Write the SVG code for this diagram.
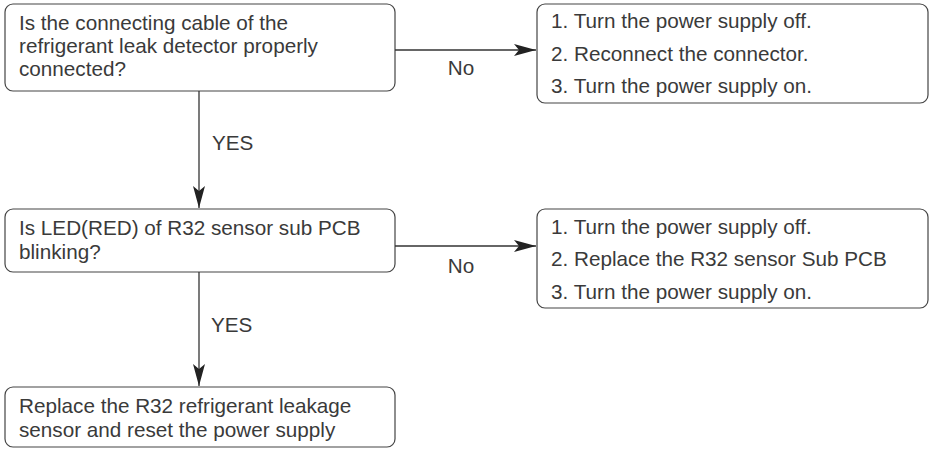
<svg xmlns="http://www.w3.org/2000/svg" width="930" height="450" viewBox="0 0 930 450">
<style>
.box{fill:#fff;stroke:#444;stroke-width:1.2}
.t{font-family:"Liberation Sans",Arial,sans-serif;font-size:20.7px;fill:#3a3a3a}
.c{stroke:#333;stroke-width:1.3;fill:none}
</style>
<defs>
<marker id="ah" markerUnits="userSpaceOnUse" markerWidth="23" markerHeight="13" viewBox="0 0 23 13" refX="22" refY="6.5" orient="auto">
<path d="M0,0.5 L22,6.5 L0,12.5 L5,6.5 Z" fill="#222"/>
</marker>
</defs>
<rect width="930" height="450" fill="#fff"/>
<g id="n1">
<rect class="box" x="5" y="4" width="390" height="87" rx="8"/>
<text class="t" x="19" y="30">Is the connecting cable of the</text>
<text class="t" x="19" y="53">refrigerant leak detector properly</text>
<text class="t" x="19" y="76">connected?</text>
</g>
<g id="n2">
<rect class="box" x="537" y="4" width="391" height="99" rx="8"/>
<text class="t" x="551" y="28">1. Turn the power supply off.</text>
<text class="t" x="551" y="61">2. Reconnect the connector.</text>
<text class="t" x="551" y="93">3. Turn the power supply on.</text>
</g>
<g id="n3">
<rect class="box" x="5" y="209" width="390" height="63" rx="8"/>
<text class="t" x="19" y="235">Is LED(RED) of R32 sensor sub PCB</text>
<text class="t" x="19" y="259">blinking?</text>
</g>
<g id="n4">
<rect class="box" x="537" y="209" width="391" height="99" rx="8"/>
<text class="t" x="551" y="234">1. Turn the power supply off.</text>
<text class="t" x="551" y="266">2. Replace the R32 sensor Sub PCB</text>
<text class="t" x="551" y="299">3. Turn the power supply on.</text>
</g>
<g id="n5">
<rect class="box" x="5" y="387" width="390" height="60" rx="8"/>
<text class="t" x="19" y="413">Replace the R32 refrigerant leakage</text>
<text class="t" x="19" y="437">sensor and reset the power supply</text>
</g>
<g id="connectors">
<line class="c" x1="395" y1="50" x2="536" y2="50" marker-end="url(#ah)"/>
<text class="t" x="461" y="75" text-anchor="middle">No</text>
<line class="c" x1="199" y1="91" x2="199" y2="208" marker-end="url(#ah)"/>
<text class="t" x="212" y="150">YES</text>
<line class="c" x1="395" y1="246" x2="536" y2="246" marker-end="url(#ah)"/>
<text class="t" x="461" y="273" text-anchor="middle">No</text>
<line class="c" x1="199" y1="272" x2="199" y2="386" marker-end="url(#ah)"/>
<text class="t" x="211" y="332">YES</text>
</g>
</svg>
